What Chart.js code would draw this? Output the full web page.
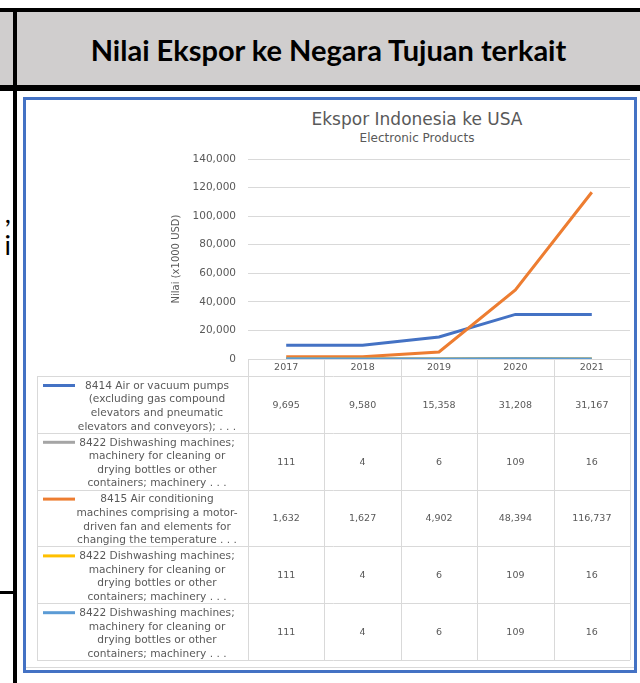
<!DOCTYPE html>
<html>
<head>
<meta charset="utf-8">
<script src="https://cdn.jsdelivr.net/npm/chart.js@4.4.1/dist/chart.umd.min.js"></script>
<style>
  body { margin: 0; width: 640px; height: 683px; background: #fff; position: relative; overflow: hidden; }
  .blk { position: absolute; background: #000; }
  #head { position: absolute; left: 0; top: 12px; width: 640px; height: 73px; background: #d0cece; }
  #headText { position: absolute; left: 17px; right: 0; top: 13px; height: 73px; line-height: 73px;
    text-align: center; font-family: Lato, sans-serif; font-weight: 700; font-size: 29px; color: #000; }
  .frag { position: absolute; right: 629px; font-family: Lato, sans-serif; font-size: 27px; color: #000; }
  #box { position: absolute; left: 23px; top: 97px; width: 608px; height: 570px; border: 3px solid #4472c4; background: #fff; }
  #boxEdge { position: absolute; left: 26px; top: 667px; width: 608px; height: 1px; background: #d9d9d9; }
  #chartTitle { position: absolute; left: 0; width: 834px; top: 109px; text-align: center;
    font-family: "DejaVu Sans", sans-serif; font-size: 17px; color: #595959; }
  #chartSub { position: absolute; left: 0; width: 834px; top: 131px; text-align: center;
    font-family: "DejaVu Sans", sans-serif; font-size: 12px; color: #595959; }
  #wrap { position: absolute; left: 26px; top: 100px; width: 607px; height: 570px; }
</style>
</head>
<body>
<div id="head"></div>
<div id="headText">Nilai Ekspor ke Negara Tujuan terkait</div>
<div class="blk" style="left:0;top:8px;width:640px;height:4px"></div>
<div class="blk" style="left:0;top:85px;width:640px;height:6px"></div>
<div class="blk" style="left:13px;top:8px;width:4px;height:675px"></div>
<div class="blk" style="left:0;top:591px;width:13px;height:3px"></div>
<div class="frag" style="top:196px">,</div>
<div class="frag" style="top:228px">i</div>
<div id="box"></div>
<div id="boxEdge"></div>
<div id="chartTitle">Ekspor Indonesia ke USA</div>
<div id="chartSub">Electronic Products</div>
<div id="wrap"><canvas id="chart" width="607" height="570"></canvas></div>

<script>
const years = ['2017', '2018', '2019', '2020', '2021'];

const airPumps = [9695, 9580, 15358, 31208, 31167];
const dishwashers = [111, 4, 6, 109, 16];
const airConditioners = [1632, 1627, 4902, 48394, 116737];
const dishwashersB = [111, 4, 6, 109, 16];
const dishwashersC = [111, 4, 6, 109, 16];

const dishLabel = ['8422 Dishwashing machines;', 'machinery for cleaning or', 'drying bottles or other', 'containers; machinery . . .'];
const seriesLabels = [
    ['8414 Air or vacuum pumps', '(excluding gas compound', 'elevators and pneumatic', 'elevators and conveyors); . . .'],
    dishLabel,
    ['8415 Air conditioning', 'machines comprising a motor-', 'driven fan and elements for', 'changing the temperature . . .'],
    dishLabel,
    dishLabel
];
const seriesValues = [airPumps, dishwashers, airConditioners, dishwashersB, dishwashersC];
const seriesColors = ['#4472c4', '#a5a5a5', '#ed7d31', '#ffc000', '#5b9bd5'];

const yTicks = [0, 20000, 40000, 60000, 80000, 100000, 120000, 140000];

const textColor = '#595959';
const lineGrey = '#d9d9d9';
const FONT = '"DejaVu Sans", sans-serif';

// Data table drawn under the plot, columns taken from the x scale
const dataTable = {
    id: 'dataTable',
    afterDraw(chart) {
        const ctx = chart.ctx;
        const x = chart.scales.x;
        const area = chart.chartArea;
        const step = x.getPixelForValue(1) - x.getPixelForValue(0);
        const tableLeft = 11;
        const headBottom = area.bottom + 17;
        const rowH = 56.8;
        const tableBottom = headBottom + rowH * seriesValues.length;

        ctx.save();
        ctx.strokeStyle = lineGrey;
        ctx.lineWidth = 1;
        ctx.beginPath();
        // header row
        ctx.moveTo(area.left, area.bottom + 0.5);
        ctx.lineTo(area.right, area.bottom + 0.5);
        for (let i = 0; i <= years.length; i++) {
            const px = Math.round(x.getPixelForValue(i) - step / 2) + 0.5;
            ctx.moveTo(px, area.bottom);
            ctx.lineTo(px, tableBottom);
        }
        ctx.moveTo(tableLeft + 0.5, headBottom);
        ctx.lineTo(tableLeft + 0.5, tableBottom);
        for (let r = 0; r <= seriesValues.length; r++) {
            const py = Math.round(headBottom + r * rowH) + 0.5;
            ctx.moveTo(tableLeft, py);
            ctx.lineTo(area.right, py);
        }
        ctx.stroke();

        ctx.fillStyle = textColor;
        ctx.textAlign = 'center';
        ctx.textBaseline = 'middle';
        seriesValues.forEach((vals, r) => {
            const top = headBottom + r * rowH;
            const mid = top + rowH / 2;
            // legend key
            ctx.strokeStyle = seriesColors[r];
            ctx.lineWidth = 3;
            ctx.beginPath();
            ctx.moveTo(tableLeft + 6, top + 9.5);
            ctx.lineTo(tableLeft + 38, top + 9.5);
            ctx.stroke();
            // label lines
            ctx.font = '10.6px ' + FONT;
            seriesLabels[r].forEach((line, k) => {
                ctx.fillText(line, 131, top + 10 + k * 13.6);
            });
            // values
            ctx.font = '9.5px ' + FONT;
            vals.forEach((v, i) => {
                ctx.fillText(v.toLocaleString('en-US'), x.getPixelForValue(i), mid + 1);
            });
        });
        ctx.restore();
    }
};

new Chart(document.getElementById('chart'), {
    type: 'line',
    data: {
        labels: years,
        datasets: seriesValues.map((vals, i) => ({
            label: seriesLabels[i].join(' '),
            data: vals,
            borderColor: seriesColors[i],
            backgroundColor: seriesColors[i],
            borderWidth: 3,
            pointRadius: 0,
            tension: 0,
            order: seriesValues.length - 1 - i
        }))
    },
    options: {
        responsive: false,
        animation: false,
        layout: { padding: { left: 140, right: 3, top: 59, bottom: 294 } },
        plugins: {
            legend: { display: false },
            tooltip: { enabled: false }
        },
        scales: {
            x: {
                offset: true,
                grid: { display: false, drawTicks: false, tickLength: 0 },
                border: { display: false },
                ticks: { color: textColor, font: { family: FONT, size: 9.5 }, padding: 3, maxRotation: 0 },
                afterFit(scale) { scale.height = 17; }
            },
            y: {
                min: 0,
                max: yTicks[yTicks.length - 1],
                afterBuildTicks(scale) { scale.ticks = yTicks.map(v => ({ value: v })); },
                grid: { color: lineGrey, drawTicks: false },
                border: { display: false },
                ticks: {
                    color: textColor,
                    font: { family: FONT, size: 10.5 },
                    padding: 12,
                    callback: v => v.toLocaleString('en-US')
                },
                title: {
                    display: true,
                    text: 'Nilai (x1000 USD)',
                    color: textColor,
                    font: { family: FONT, size: 10 },
                    padding: { top: 4, bottom: 4 }
                },
                afterFit(scale) { scale.width = 82; }
            }
        }
    },
    plugins: [dataTable]
});
</script>
</body>
</html>
